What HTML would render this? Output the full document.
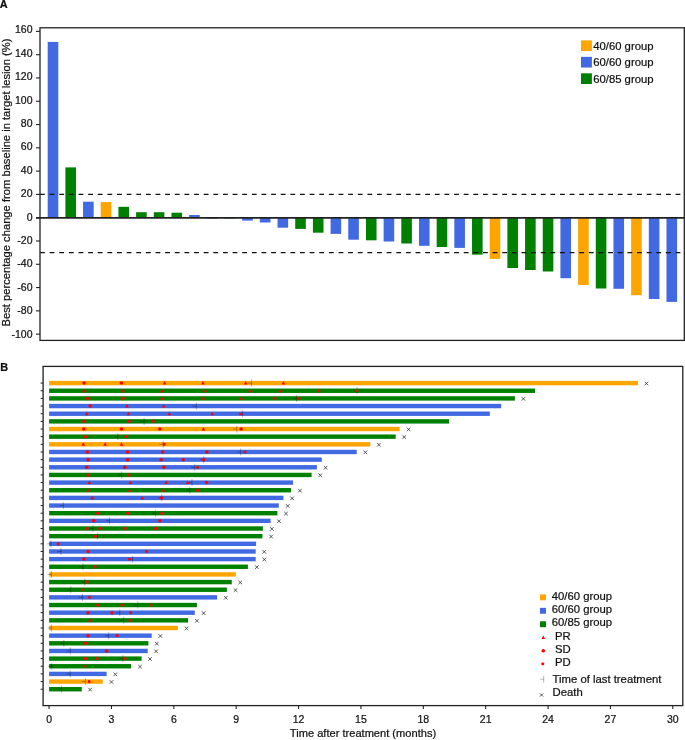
<!DOCTYPE html>
<html><head><meta charset="utf-8"><style>
html,body{margin:0;padding:0;background:#fff;width:685px;height:740px;overflow:hidden}
svg{display:block}
text{font-family:"Liberation Sans", sans-serif;fill:#111;stroke:#111;stroke-width:0.22px}
svg{-webkit-font-smoothing:antialiased}
.t{will-change:transform}
</style></head><body>
<svg class="t" width="685" height="740" viewBox="0 0 685 740">
<rect width="685" height="740" fill="#fff"/>
<text x="-0.2" y="7.8" font-size="10.9" font-weight="bold">A</text>
<text transform="translate(10.2,182.5) rotate(-90)" font-size="11.2" text-anchor="middle">Best percentage change from baseline in target lesion (%)</text>
<line x1="36" x2="40" y1="31.38" y2="31.38" stroke="#222" stroke-width="1.1"/>
<text x="32.5" y="33.25" font-size="10.5" text-anchor="end">160</text>
<line x1="36" x2="40" y1="54.67" y2="54.67" stroke="#222" stroke-width="1.1"/>
<text x="32.5" y="56.67" font-size="10.5" text-anchor="end">140</text>
<line x1="36" x2="40" y1="77.96" y2="77.96" stroke="#222" stroke-width="1.1"/>
<text x="32.5" y="80.09" font-size="10.5" text-anchor="end">120</text>
<line x1="36" x2="40" y1="101.25" y2="101.25" stroke="#222" stroke-width="1.1"/>
<text x="32.5" y="103.51" font-size="10.5" text-anchor="end">100</text>
<line x1="36" x2="40" y1="124.54" y2="124.54" stroke="#222" stroke-width="1.1"/>
<text x="32.5" y="126.93" font-size="10.5" text-anchor="end">80</text>
<line x1="36" x2="40" y1="147.83" y2="147.83" stroke="#222" stroke-width="1.1"/>
<text x="32.5" y="150.35" font-size="10.5" text-anchor="end">60</text>
<line x1="36" x2="40" y1="171.12" y2="171.12" stroke="#222" stroke-width="1.1"/>
<text x="32.5" y="173.77" font-size="10.5" text-anchor="end">40</text>
<line x1="36" x2="40" y1="194.41" y2="194.41" stroke="#222" stroke-width="1.1"/>
<text x="32.5" y="197.19" font-size="10.5" text-anchor="end">20</text>
<line x1="36" x2="40" y1="217.7" y2="217.7" stroke="#222" stroke-width="1.1"/>
<text x="32.5" y="220.61" font-size="10.5" text-anchor="end">0</text>
<line x1="36" x2="40" y1="240.99" y2="240.99" stroke="#222" stroke-width="1.1"/>
<text x="32.5" y="244.03" font-size="10.5" text-anchor="end">-20</text>
<line x1="36" x2="40" y1="264.28" y2="264.28" stroke="#222" stroke-width="1.1"/>
<text x="32.5" y="267.45" font-size="10.5" text-anchor="end">-40</text>
<line x1="36" x2="40" y1="287.57" y2="287.57" stroke="#222" stroke-width="1.1"/>
<text x="32.5" y="290.87" font-size="10.5" text-anchor="end">-60</text>
<line x1="36" x2="40" y1="310.86" y2="310.86" stroke="#222" stroke-width="1.1"/>
<text x="32.5" y="314.29" font-size="10.5" text-anchor="end">-80</text>
<line x1="36" x2="40" y1="334.15" y2="334.15" stroke="#222" stroke-width="1.1"/>
<text x="32.5" y="337.71" font-size="10.5" text-anchor="end">-100</text>
<rect x="47.7" y="41.9" width="10.6" height="175.8" fill="#4169E1"/>
<rect x="65.38" y="167.4" width="10.6" height="50.3" fill="#008000"/>
<rect x="83.06" y="201.7" width="10.6" height="16" fill="#4169E1"/>
<rect x="100.74" y="202.1" width="10.6" height="15.6" fill="#FFA500"/>
<rect x="118.42" y="206.8" width="10.6" height="10.9" fill="#008000"/>
<rect x="136.1" y="212.2" width="10.6" height="5.5" fill="#008000"/>
<rect x="153.78" y="212.2" width="10.6" height="5.5" fill="#008000"/>
<rect x="171.46" y="212.7" width="10.6" height="5" fill="#008000"/>
<rect x="189.14" y="215" width="10.6" height="2.7" fill="#4169E1"/>
<rect x="224.5" y="217.7" width="10.6" height="0.7" fill="#008000"/>
<rect x="242.18" y="217.7" width="10.6" height="2.9" fill="#4169E1"/>
<rect x="259.86" y="217.7" width="10.6" height="4.8" fill="#4169E1"/>
<rect x="277.54" y="217.7" width="10.6" height="10" fill="#4169E1"/>
<rect x="295.22" y="217.7" width="10.6" height="11.2" fill="#008000"/>
<rect x="312.9" y="217.7" width="10.6" height="15" fill="#008000"/>
<rect x="330.58" y="217.7" width="10.6" height="16.2" fill="#4169E1"/>
<rect x="348.26" y="217.7" width="10.6" height="22" fill="#4169E1"/>
<rect x="365.94" y="217.7" width="10.6" height="22.6" fill="#008000"/>
<rect x="383.62" y="217.7" width="10.6" height="23.8" fill="#4169E1"/>
<rect x="401.3" y="217.7" width="10.6" height="25.8" fill="#008000"/>
<rect x="418.98" y="217.7" width="10.6" height="28.1" fill="#4169E1"/>
<rect x="436.66" y="217.7" width="10.6" height="29.3" fill="#008000"/>
<rect x="454.34" y="217.7" width="10.6" height="30.2" fill="#4169E1"/>
<rect x="472.02" y="217.7" width="10.6" height="36.9" fill="#008000"/>
<rect x="489.7" y="217.7" width="10.6" height="41.2" fill="#FFA500"/>
<rect x="507.38" y="217.7" width="10.6" height="50.3" fill="#008000"/>
<rect x="525.06" y="217.7" width="10.6" height="52.3" fill="#008000"/>
<rect x="542.74" y="217.7" width="10.6" height="53.8" fill="#008000"/>
<rect x="560.42" y="217.7" width="10.6" height="60.5" fill="#4169E1"/>
<rect x="578.1" y="217.7" width="10.6" height="67.3" fill="#FFA500"/>
<rect x="595.78" y="217.7" width="10.6" height="70.8" fill="#008000"/>
<rect x="613.46" y="217.7" width="10.6" height="71.1" fill="#4169E1"/>
<rect x="631.14" y="217.7" width="10.6" height="77.5" fill="#FFA500"/>
<rect x="648.82" y="217.7" width="10.6" height="81.3" fill="#4169E1"/>
<rect x="666.5" y="217.7" width="10.6" height="84.2" fill="#4169E1"/>
<line x1="40" x2="684.3" y1="194.41" y2="194.41" stroke="#111" stroke-width="1.2" stroke-dasharray="4.8 4.83"/>
<line x1="40" x2="684.3" y1="252.63" y2="252.63" stroke="#111" stroke-width="1.2" stroke-dasharray="4.8 4.83"/>
<line x1="36" x2="684.3" y1="217.85" y2="217.85" stroke="#222" stroke-width="1.6"/>
<rect x="206.82" y="217.6" width="10.6" height="1.1" fill="#000" fill-opacity="0.3"/>
<rect x="40" y="27.8" width="644.3" height="312.6" fill="none" stroke="#222" stroke-width="1.3"/>
<rect x="581" y="40.4" width="10.9" height="10.7" fill="#FFA500"/>
<text x="593.2" y="49.6" font-size="11.3">40/60 group</text>
<rect x="581" y="56.85" width="10.9" height="10.7" fill="#4169E1"/>
<text x="593.2" y="66.05" font-size="11.3">60/60 group</text>
<rect x="581" y="73.3" width="10.9" height="10.7" fill="#008000"/>
<text x="593.2" y="82.5" font-size="11.3">60/85 group</text>
<text x="0.2" y="370.8" font-size="10.9" font-weight="bold">B</text>
<rect x="49.1" y="380.9" width="588.8" height="4.4" fill="#FFA500"/>
<line x1="40.6" x2="43.1" y1="383.1" y2="383.1" stroke="#222" stroke-width="1"/>
<path d="M251.5 379.6V386.6M247.7 383.1H251.5" stroke="#000" stroke-opacity="0.38" stroke-width="0.75" fill="none"/>
<circle cx="84" cy="383.1" r="1.75" fill="#FF0000"/>
<circle cx="121.4" cy="383.1" r="1.75" fill="#FF0000"/>
<path d="M164.6 381.12L166.4 384.54L162.8 384.54Z" fill="#FF0000"/>
<path d="M202.9 381.12L204.7 384.54L201.1 384.54Z" fill="#FF0000"/>
<path d="M245.7 381.12L247.5 384.54L243.9 384.54Z" fill="#FF0000"/>
<path d="M283.4 381.12L285.2 384.54L281.6 384.54Z" fill="#FF0000"/>
<path d="M644.6 381.7L648.2 385.3M644.6 385.3L648.2 381.7" stroke="#2a2a2a" stroke-width="0.78" fill="none"/>
<rect x="49.1" y="388.55" width="485.9" height="4.4" fill="#008000"/>
<line x1="40.6" x2="43.1" y1="390.75" y2="390.75" stroke="#222" stroke-width="1"/>
<path d="M357.1 387.25V394.25M353.3 390.75H357.1" stroke="#000" stroke-opacity="0.38" stroke-width="0.75" fill="none"/>
<path d="M84 388.77L85.8 392.19L82.2 392.19Z" fill="#FF0000"/>
<path d="M122.8 388.77L124.6 392.19L121 392.19Z" fill="#FF0000"/>
<path d="M161.8 388.77L163.6 392.19L160 392.19Z" fill="#FF0000"/>
<path d="M205 388.77L206.8 392.19L203.2 392.19Z" fill="#FF0000"/>
<path d="M250 388.77L251.8 392.19L248.2 392.19Z" fill="#FF0000"/>
<path d="M279.9 388.77L281.7 392.19L278.1 392.19Z" fill="#FF0000"/>
<path d="M318.9 388.77L320.7 392.19L317.1 392.19Z" fill="#FF0000"/>
<rect x="355.35" y="389.4" width="2.7" height="2.7" rx="0.7" fill="#FF0000"/>
<rect x="49.1" y="396.21" width="465.8" height="4.4" fill="#008000"/>
<line x1="40.6" x2="43.1" y1="398.41" y2="398.41" stroke="#222" stroke-width="1"/>
<path d="M296.6 394.91V401.91M292.8 398.41H296.6" stroke="#000" stroke-opacity="0.38" stroke-width="0.75" fill="none"/>
<circle cx="87.5" cy="398.41" r="1.75" fill="#FF0000"/>
<circle cx="122.8" cy="398.41" r="1.75" fill="#FF0000"/>
<path d="M161.8 396.42L163.6 399.84L160 399.84Z" fill="#FF0000"/>
<path d="M202.9 396.42L204.7 399.84L201.1 399.84Z" fill="#FF0000"/>
<path d="M241.1 396.42L242.9 399.84L239.3 399.84Z" fill="#FF0000"/>
<path d="M274.5 396.42L276.3 399.84L272.7 399.84Z" fill="#FF0000"/>
<rect x="297.45" y="397.06" width="2.7" height="2.7" rx="0.7" fill="#FF0000"/>
<path d="M521.6 397.01L525.2 400.61M521.6 400.61L525.2 397.01" stroke="#2a2a2a" stroke-width="0.78" fill="none"/>
<rect x="49.1" y="403.86" width="452.1" height="4.4" fill="#4169E1"/>
<line x1="40.6" x2="43.1" y1="406.06" y2="406.06" stroke="#222" stroke-width="1"/>
<path d="M196.3 402.56V409.56M192.5 406.06H196.3" stroke="#000" stroke-opacity="0.38" stroke-width="0.75" fill="none"/>
<circle cx="90.1" cy="406.06" r="1.75" fill="#FF0000"/>
<path d="M126.9 404.08L128.7 407.5L125.1 407.5Z" fill="#FF0000"/>
<path d="M163.7 404.08L165.5 407.5L161.9 407.5Z" fill="#FF0000"/>
<rect x="49.1" y="411.51" width="440.7" height="4.4" fill="#4169E1"/>
<line x1="40.6" x2="43.1" y1="413.71" y2="413.71" stroke="#222" stroke-width="1"/>
<path d="M242.6 410.21V417.21M238.8 413.71H242.6" stroke="#000" stroke-opacity="0.38" stroke-width="0.75" fill="none"/>
<path d="M86.8 411.73L88.6 415.15L85 415.15Z" fill="#FF0000"/>
<path d="M128.4 411.73L130.2 415.15L126.6 415.15Z" fill="#FF0000"/>
<path d="M169.3 411.73L171.1 415.15L167.5 415.15Z" fill="#FF0000"/>
<path d="M212.3 411.73L214.1 415.15L210.5 415.15Z" fill="#FF0000"/>
<path d="M241.1 411.73L242.9 415.15L239.3 415.15Z" fill="#FF0000"/>
<rect x="49.1" y="419.17" width="399.9" height="4.4" fill="#008000"/>
<line x1="40.6" x2="43.1" y1="421.37" y2="421.37" stroke="#222" stroke-width="1"/>
<path d="M144.1 417.87V424.87M140.3 421.37H144.1" stroke="#000" stroke-opacity="0.38" stroke-width="0.75" fill="none"/>
<circle cx="84" cy="421.37" r="1.75" fill="#FF0000"/>
<circle cx="129.1" cy="421.37" r="1.75" fill="#FF0000"/>
<circle cx="152.9" cy="421.37" r="1.75" fill="#FF0000"/>
<rect x="49.1" y="426.82" width="350.6" height="4.4" fill="#FFA500"/>
<line x1="40.6" x2="43.1" y1="429.02" y2="429.02" stroke="#222" stroke-width="1"/>
<path d="M236.8 425.52V432.52M233 429.02H236.8" stroke="#000" stroke-opacity="0.38" stroke-width="0.75" fill="none"/>
<circle cx="83.8" cy="429.02" r="1.75" fill="#FF0000"/>
<circle cx="121.5" cy="429.02" r="1.75" fill="#FF0000"/>
<circle cx="159.9" cy="429.02" r="1.75" fill="#FF0000"/>
<path d="M203.3 427.03L205.1 430.45L201.5 430.45Z" fill="#FF0000"/>
<circle cx="241.1" cy="429.02" r="1.75" fill="#FF0000"/>
<path d="M406.8 427.62L410.4 431.22M406.8 431.22L410.4 427.62" stroke="#2a2a2a" stroke-width="0.78" fill="none"/>
<rect x="49.1" y="434.47" width="346.6" height="4.4" fill="#008000"/>
<line x1="40.6" x2="43.1" y1="436.67" y2="436.67" stroke="#222" stroke-width="1"/>
<path d="M117.8 433.17V440.17M114 436.67H117.8" stroke="#000" stroke-opacity="0.38" stroke-width="0.75" fill="none"/>
<circle cx="85.3" cy="436.67" r="1.75" fill="#FF0000"/>
<rect x="124.45" y="435.32" width="2.7" height="2.7" rx="0.7" fill="#FF0000"/>
<path d="M402.4 435.27L406 438.87M402.4 438.87L406 435.27" stroke="#2a2a2a" stroke-width="0.78" fill="none"/>
<rect x="49.1" y="442.12" width="321.2" height="4.4" fill="#FFA500"/>
<line x1="40.6" x2="43.1" y1="444.32" y2="444.32" stroke="#222" stroke-width="1"/>
<path d="M163.1 440.82V447.82M159.3 444.32H163.1" stroke="#000" stroke-opacity="0.38" stroke-width="0.75" fill="none"/>
<path d="M83.2 442.34L85 445.76L81.4 445.76Z" fill="#FF0000"/>
<path d="M105.1 442.34L106.9 445.76L103.3 445.76Z" fill="#FF0000"/>
<path d="M121.5 442.34L123.3 445.76L119.7 445.76Z" fill="#FF0000"/>
<rect x="162.85" y="442.97" width="2.7" height="2.7" rx="0.7" fill="#FF0000"/>
<path d="M377.1 442.92L380.7 446.52M377.1 446.52L380.7 442.92" stroke="#2a2a2a" stroke-width="0.78" fill="none"/>
<rect x="49.1" y="449.78" width="307.6" height="4.4" fill="#4169E1"/>
<line x1="40.6" x2="43.1" y1="451.98" y2="451.98" stroke="#222" stroke-width="1"/>
<path d="M240.7 448.48V455.48M236.9 451.98H240.7" stroke="#000" stroke-opacity="0.38" stroke-width="0.75" fill="none"/>
<circle cx="87.4" cy="451.98" r="1.75" fill="#FF0000"/>
<circle cx="127.6" cy="451.98" r="1.75" fill="#FF0000"/>
<circle cx="162.6" cy="451.98" r="1.75" fill="#FF0000"/>
<circle cx="206.8" cy="451.98" r="1.75" fill="#FF0000"/>
<rect x="243.45" y="450.63" width="2.7" height="2.7" rx="0.7" fill="#FF0000"/>
<path d="M363.6 450.58L367.2 454.18M363.6 454.18L367.2 450.58" stroke="#2a2a2a" stroke-width="0.78" fill="none"/>
<rect x="49.1" y="457.43" width="272.7" height="4.4" fill="#4169E1"/>
<line x1="40.6" x2="43.1" y1="459.63" y2="459.63" stroke="#222" stroke-width="1"/>
<path d="M203.7 456.13V463.13M199.9 459.63H203.7" stroke="#000" stroke-opacity="0.38" stroke-width="0.75" fill="none"/>
<circle cx="88.1" cy="459.63" r="1.75" fill="#FF0000"/>
<circle cx="127.6" cy="459.63" r="1.75" fill="#FF0000"/>
<circle cx="161.1" cy="459.63" r="1.75" fill="#FF0000"/>
<circle cx="183.1" cy="459.63" r="1.75" fill="#FF0000"/>
<circle cx="203.6" cy="459.63" r="1.75" fill="#FF0000"/>
<rect x="49.1" y="465.08" width="267.8" height="4.4" fill="#4169E1"/>
<line x1="40.6" x2="43.1" y1="467.28" y2="467.28" stroke="#222" stroke-width="1"/>
<path d="M194.8 463.78V470.78M191 467.28H194.8" stroke="#000" stroke-opacity="0.38" stroke-width="0.75" fill="none"/>
<circle cx="86.7" cy="467.28" r="1.75" fill="#FF0000"/>
<circle cx="124.8" cy="467.28" r="1.75" fill="#FF0000"/>
<circle cx="163.9" cy="467.28" r="1.75" fill="#FF0000"/>
<rect x="196.35" y="465.93" width="2.7" height="2.7" rx="0.7" fill="#FF0000"/>
<path d="M323.8 465.88L327.4 469.48M323.8 469.48L327.4 465.88" stroke="#2a2a2a" stroke-width="0.78" fill="none"/>
<rect x="49.1" y="472.74" width="262.5" height="4.4" fill="#008000"/>
<line x1="40.6" x2="43.1" y1="474.94" y2="474.94" stroke="#222" stroke-width="1"/>
<path d="M121.7 471.44V478.44M117.9 474.94H121.7" stroke="#000" stroke-opacity="0.38" stroke-width="0.75" fill="none"/>
<circle cx="88.1" cy="474.94" r="1.75" fill="#FF0000"/>
<circle cx="128.8" cy="474.94" r="1.75" fill="#FF0000"/>
<path d="M318.5 473.54L322.1 477.14M318.5 477.14L322.1 473.54" stroke="#2a2a2a" stroke-width="0.78" fill="none"/>
<rect x="49.1" y="480.39" width="244" height="4.4" fill="#4169E1"/>
<line x1="40.6" x2="43.1" y1="482.59" y2="482.59" stroke="#222" stroke-width="1"/>
<path d="M192 479.09V486.09M188.2 482.59H192" stroke="#000" stroke-opacity="0.38" stroke-width="0.75" fill="none"/>
<path d="M89.3 480.61L91.1 484.03L87.5 484.03Z" fill="#FF0000"/>
<path d="M130.4 480.61L132.2 484.03L128.6 484.03Z" fill="#FF0000"/>
<path d="M166.2 480.61L168 484.03L164.4 484.03Z" fill="#FF0000"/>
<path d="M187.7 480.61L189.5 484.03L185.9 484.03Z" fill="#FF0000"/>
<circle cx="206.6" cy="482.59" r="1.75" fill="#FF0000"/>
<rect x="49.1" y="488.04" width="241.9" height="4.4" fill="#008000"/>
<line x1="40.6" x2="43.1" y1="490.24" y2="490.24" stroke="#222" stroke-width="1"/>
<path d="M189.9 486.74V493.74M186.1 490.24H189.9" stroke="#000" stroke-opacity="0.38" stroke-width="0.75" fill="none"/>
<path d="M88.1 488.26L89.9 491.68L86.3 491.68Z" fill="#FF0000"/>
<path d="M129.7 488.26L131.5 491.68L127.9 491.68Z" fill="#FF0000"/>
<path d="M163.1 488.26L164.9 491.68L161.3 491.68Z" fill="#FF0000"/>
<circle cx="197.8" cy="490.24" r="1.75" fill="#FF0000"/>
<path d="M298.1 488.84L301.7 492.44M298.1 492.44L301.7 488.84" stroke="#2a2a2a" stroke-width="0.78" fill="none"/>
<rect x="49.1" y="495.69" width="234.3" height="4.4" fill="#4169E1"/>
<line x1="40.6" x2="43.1" y1="497.89" y2="497.89" stroke="#222" stroke-width="1"/>
<path d="M161.7 494.39V501.39M157.9 497.89H161.7" stroke="#000" stroke-opacity="0.38" stroke-width="0.75" fill="none"/>
<path d="M92.3 495.91L94.1 499.33L90.5 499.33Z" fill="#FF0000"/>
<path d="M142.1 495.91L143.9 499.33L140.3 499.33Z" fill="#FF0000"/>
<circle cx="161.5" cy="497.89" r="1.75" fill="#FF0000"/>
<path d="M290.3 496.49L293.9 500.09M290.3 500.09L293.9 496.49" stroke="#2a2a2a" stroke-width="0.78" fill="none"/>
<rect x="49.1" y="503.35" width="229.7" height="4.4" fill="#4169E1"/>
<line x1="40.6" x2="43.1" y1="505.55" y2="505.55" stroke="#222" stroke-width="1"/>
<path d="M63.3 502.05V509.05M59.5 505.55H63.3" stroke="#000" stroke-opacity="0.38" stroke-width="0.75" fill="none"/>
<path d="M285.9 504.15L289.5 507.75M285.9 507.75L289.5 504.15" stroke="#2a2a2a" stroke-width="0.78" fill="none"/>
<rect x="49.1" y="511" width="228.3" height="4.4" fill="#008000"/>
<line x1="40.6" x2="43.1" y1="513.2" y2="513.2" stroke="#222" stroke-width="1"/>
<path d="M155.6 509.7V516.7M151.8 513.2H155.6" stroke="#000" stroke-opacity="0.38" stroke-width="0.75" fill="none"/>
<circle cx="97.7" cy="513.2" r="1.75" fill="#FF0000"/>
<circle cx="127.9" cy="513.2" r="1.75" fill="#FF0000"/>
<circle cx="162" cy="513.2" r="1.75" fill="#FF0000"/>
<path d="M284.2 511.8L287.8 515.4M284.2 515.4L287.8 511.8" stroke="#2a2a2a" stroke-width="0.78" fill="none"/>
<rect x="49.1" y="518.65" width="221.5" height="4.4" fill="#4169E1"/>
<line x1="40.6" x2="43.1" y1="520.85" y2="520.85" stroke="#222" stroke-width="1"/>
<path d="M109.6 517.35V524.35M105.8 520.85H109.6" stroke="#000" stroke-opacity="0.38" stroke-width="0.75" fill="none"/>
<circle cx="93.7" cy="520.85" r="1.75" fill="#FF0000"/>
<circle cx="159.9" cy="520.85" r="1.75" fill="#FF0000"/>
<path d="M277.2 519.45L280.8 523.05M277.2 523.05L280.8 519.45" stroke="#2a2a2a" stroke-width="0.78" fill="none"/>
<rect x="49.1" y="526.31" width="213.8" height="4.4" fill="#008000"/>
<line x1="40.6" x2="43.1" y1="528.51" y2="528.51" stroke="#222" stroke-width="1"/>
<path d="M93 525.01V532.01M89.2 528.51H93" stroke="#000" stroke-opacity="0.38" stroke-width="0.75" fill="none"/>
<circle cx="86.7" cy="528.51" r="1.75" fill="#FF0000"/>
<circle cx="100" cy="528.51" r="1.75" fill="#FF0000"/>
<circle cx="124.8" cy="528.51" r="1.75" fill="#FF0000"/>
<circle cx="155.7" cy="528.51" r="1.75" fill="#FF0000"/>
<path d="M270 527.11L273.6 530.71M270 530.71L273.6 527.11" stroke="#2a2a2a" stroke-width="0.78" fill="none"/>
<rect x="49.1" y="533.96" width="213.3" height="4.4" fill="#008000"/>
<line x1="40.6" x2="43.1" y1="536.16" y2="536.16" stroke="#222" stroke-width="1"/>
<path d="M97.6 532.66V539.66M93.8 536.16H97.6" stroke="#000" stroke-opacity="0.38" stroke-width="0.75" fill="none"/>
<circle cx="95.1" cy="536.16" r="1.75" fill="#FF0000"/>
<path d="M269.3 534.76L272.9 538.36M269.3 538.36L272.9 534.76" stroke="#2a2a2a" stroke-width="0.78" fill="none"/>
<rect x="49.1" y="541.61" width="207" height="4.4" fill="#4169E1"/>
<line x1="40.6" x2="43.1" y1="543.81" y2="543.81" stroke="#222" stroke-width="1"/>
<path d="M50.9 540.31V547.31M47.1 543.81H50.9" stroke="#000" stroke-opacity="0.38" stroke-width="0.75" fill="none"/>
<rect x="56.85" y="542.46" width="2.7" height="2.7" rx="0.7" fill="#FF0000"/>
<rect x="49.1" y="549.27" width="206.6" height="4.4" fill="#4169E1"/>
<line x1="40.6" x2="43.1" y1="551.47" y2="551.47" stroke="#222" stroke-width="1"/>
<path d="M61 547.97V554.97M57.2 551.47H61" stroke="#000" stroke-opacity="0.38" stroke-width="0.75" fill="none"/>
<circle cx="88.1" cy="551.47" r="1.75" fill="#FF0000"/>
<rect x="145.15" y="550.12" width="2.7" height="2.7" rx="0.7" fill="#FF0000"/>
<path d="M262.5 550.07L266.1 553.67M262.5 553.67L266.1 550.07" stroke="#2a2a2a" stroke-width="0.78" fill="none"/>
<rect x="49.1" y="556.92" width="206.6" height="4.4" fill="#4169E1"/>
<line x1="40.6" x2="43.1" y1="559.12" y2="559.12" stroke="#222" stroke-width="1"/>
<path d="M132.7 555.62V562.62M128.9 559.12H132.7" stroke="#000" stroke-opacity="0.38" stroke-width="0.75" fill="none"/>
<circle cx="83.9" cy="559.12" r="1.75" fill="#FF0000"/>
<rect x="128.15" y="557.77" width="2.7" height="2.7" rx="0.7" fill="#FF0000"/>
<path d="M262.5 557.72L266.1 561.32M262.5 561.32L266.1 557.72" stroke="#2a2a2a" stroke-width="0.78" fill="none"/>
<rect x="49.1" y="564.57" width="198.8" height="4.4" fill="#008000"/>
<line x1="40.6" x2="43.1" y1="566.77" y2="566.77" stroke="#222" stroke-width="1"/>
<path d="M82.9 563.27V570.27M79.1 566.77H82.9" stroke="#000" stroke-opacity="0.38" stroke-width="0.75" fill="none"/>
<circle cx="94.7" cy="566.77" r="1.75" fill="#FF0000"/>
<path d="M255 565.37L258.6 568.97M255 568.97L258.6 565.37" stroke="#2a2a2a" stroke-width="0.78" fill="none"/>
<rect x="49.1" y="572.22" width="186.7" height="4.4" fill="#FFA500"/>
<line x1="40.6" x2="43.1" y1="574.42" y2="574.42" stroke="#222" stroke-width="1"/>
<path d="M51.4 570.92V577.92M47.6 574.42H51.4" stroke="#000" stroke-opacity="0.38" stroke-width="0.75" fill="none"/>
<rect x="49.1" y="579.88" width="182.7" height="4.4" fill="#008000"/>
<line x1="40.6" x2="43.1" y1="582.08" y2="582.08" stroke="#222" stroke-width="1"/>
<path d="M84.8 578.58V585.58M81 582.08H84.8" stroke="#000" stroke-opacity="0.38" stroke-width="0.75" fill="none"/>
<circle cx="86.7" cy="582.08" r="1.75" fill="#FF0000"/>
<path d="M238.4 580.68L242 584.28M238.4 584.28L242 580.68" stroke="#2a2a2a" stroke-width="0.78" fill="none"/>
<rect x="49.1" y="587.53" width="177.8" height="4.4" fill="#008000"/>
<line x1="40.6" x2="43.1" y1="589.73" y2="589.73" stroke="#222" stroke-width="1"/>
<path d="M70.8 586.23V593.23M67 589.73H70.8" stroke="#000" stroke-opacity="0.38" stroke-width="0.75" fill="none"/>
<rect x="80.95" y="588.38" width="2.7" height="2.7" rx="0.7" fill="#FF0000"/>
<path d="M233.7 588.33L237.3 591.93M233.7 591.93L237.3 588.33" stroke="#2a2a2a" stroke-width="0.78" fill="none"/>
<rect x="49.1" y="595.18" width="168" height="4.4" fill="#4169E1"/>
<line x1="40.6" x2="43.1" y1="597.38" y2="597.38" stroke="#222" stroke-width="1"/>
<path d="M82.5 593.88V600.88M78.7 597.38H82.5" stroke="#000" stroke-opacity="0.38" stroke-width="0.75" fill="none"/>
<rect x="88.15" y="596.03" width="2.7" height="2.7" rx="0.7" fill="#FF0000"/>
<path d="M224 595.98L227.6 599.58M224 599.58L227.6 595.98" stroke="#2a2a2a" stroke-width="0.78" fill="none"/>
<rect x="49.1" y="602.84" width="147.8" height="4.4" fill="#008000"/>
<line x1="40.6" x2="43.1" y1="605.04" y2="605.04" stroke="#222" stroke-width="1"/>
<path d="M137.8 601.54V608.54M134 605.04H137.8" stroke="#000" stroke-opacity="0.38" stroke-width="0.75" fill="none"/>
<rect x="96.35" y="603.69" width="2.7" height="2.7" rx="0.7" fill="#FF0000"/>
<rect x="120.45" y="603.69" width="2.7" height="2.7" rx="0.7" fill="#FF0000"/>
<rect x="148.95" y="603.69" width="2.7" height="2.7" rx="0.7" fill="#FF0000"/>
<rect x="49.1" y="610.49" width="145.7" height="4.4" fill="#4169E1"/>
<line x1="40.6" x2="43.1" y1="612.69" y2="612.69" stroke="#222" stroke-width="1"/>
<path d="M119.8 609.19V616.19M116 612.69H119.8" stroke="#000" stroke-opacity="0.38" stroke-width="0.75" fill="none"/>
<circle cx="88.1" cy="612.69" r="1.75" fill="#FF0000"/>
<circle cx="112" cy="612.69" r="1.75" fill="#FF0000"/>
<rect x="129.35" y="611.34" width="2.7" height="2.7" rx="0.7" fill="#FF0000"/>
<path d="M201.8 611.29L205.4 614.89M201.8 614.89L205.4 611.29" stroke="#2a2a2a" stroke-width="0.78" fill="none"/>
<rect x="49.1" y="618.14" width="138.9" height="4.4" fill="#008000"/>
<line x1="40.6" x2="43.1" y1="620.34" y2="620.34" stroke="#222" stroke-width="1"/>
<path d="M123.6 616.84V623.84M119.8 620.34H123.6" stroke="#000" stroke-opacity="0.38" stroke-width="0.75" fill="none"/>
<path d="M90.2 618.36L92 621.78L88.4 621.78Z" fill="#FF0000"/>
<rect x="128.65" y="618.99" width="2.7" height="2.7" rx="0.7" fill="#FF0000"/>
<path d="M195.1 618.94L198.7 622.54M195.1 622.54L198.7 618.94" stroke="#2a2a2a" stroke-width="0.78" fill="none"/>
<rect x="49.1" y="625.8" width="128.7" height="4.4" fill="#FFA500"/>
<line x1="40.6" x2="43.1" y1="628" y2="628" stroke="#222" stroke-width="1"/>
<path d="M51.4 624.5V631.5M47.6 628H51.4" stroke="#000" stroke-opacity="0.38" stroke-width="0.75" fill="none"/>
<path d="M184.7 626.6L188.3 630.2M184.7 630.2L188.3 626.6" stroke="#2a2a2a" stroke-width="0.78" fill="none"/>
<rect x="49.1" y="633.45" width="102.6" height="4.4" fill="#4169E1"/>
<line x1="40.6" x2="43.1" y1="635.65" y2="635.65" stroke="#222" stroke-width="1"/>
<path d="M108.6 632.15V639.15M104.8 635.65H108.6" stroke="#000" stroke-opacity="0.38" stroke-width="0.75" fill="none"/>
<circle cx="88.1" cy="635.65" r="1.75" fill="#FF0000"/>
<rect x="115.75" y="634.3" width="2.7" height="2.7" rx="0.7" fill="#FF0000"/>
<path d="M158.6 634.25L162.2 637.85M158.6 637.85L162.2 634.25" stroke="#2a2a2a" stroke-width="0.78" fill="none"/>
<rect x="49.1" y="641.1" width="99.3" height="4.4" fill="#008000"/>
<line x1="40.6" x2="43.1" y1="643.3" y2="643.3" stroke="#222" stroke-width="1"/>
<path d="M63.8 639.8V646.8M60 643.3H63.8" stroke="#000" stroke-opacity="0.38" stroke-width="0.75" fill="none"/>
<circle cx="85.6" cy="643.3" r="1.75" fill="#FF0000"/>
<path d="M155 641.9L158.6 645.5M155 645.5L158.6 641.9" stroke="#2a2a2a" stroke-width="0.78" fill="none"/>
<rect x="49.1" y="648.75" width="98.6" height="4.4" fill="#4169E1"/>
<line x1="40.6" x2="43.1" y1="650.95" y2="650.95" stroke="#222" stroke-width="1"/>
<path d="M70.3 647.45V654.45M66.5 650.95H70.3" stroke="#000" stroke-opacity="0.38" stroke-width="0.75" fill="none"/>
<circle cx="106.6" cy="650.95" r="1.75" fill="#FF0000"/>
<path d="M154.3 649.55L157.9 653.15M154.3 653.15L157.9 649.55" stroke="#2a2a2a" stroke-width="0.78" fill="none"/>
<rect x="49.1" y="656.41" width="92.5" height="4.4" fill="#008000"/>
<line x1="40.6" x2="43.1" y1="658.61" y2="658.61" stroke="#222" stroke-width="1"/>
<path d="M122.9 655.11V662.11M119.1 658.61H122.9" stroke="#000" stroke-opacity="0.38" stroke-width="0.75" fill="none"/>
<circle cx="85.3" cy="658.61" r="1.75" fill="#FF0000"/>
<circle cx="97" cy="658.61" r="1.75" fill="#FF0000"/>
<circle cx="124.6" cy="658.61" r="1.75" fill="#FF0000"/>
<path d="M148.2 657.21L151.8 660.81M148.2 660.81L151.8 657.21" stroke="#2a2a2a" stroke-width="0.78" fill="none"/>
<rect x="49.1" y="664.06" width="82" height="4.4" fill="#008000"/>
<line x1="40.6" x2="43.1" y1="666.26" y2="666.26" stroke="#222" stroke-width="1"/>
<path d="M51.8 662.76V669.76M48 666.26H51.8" stroke="#000" stroke-opacity="0.38" stroke-width="0.75" fill="none"/>
<rect x="83.05" y="664.91" width="2.7" height="2.7" rx="0.7" fill="#FF0000"/>
<path d="M138.2 664.86L141.8 668.46M138.2 668.46L141.8 664.86" stroke="#2a2a2a" stroke-width="0.78" fill="none"/>
<rect x="49.1" y="671.71" width="57.5" height="4.4" fill="#4169E1"/>
<line x1="40.6" x2="43.1" y1="673.91" y2="673.91" stroke="#222" stroke-width="1"/>
<path d="M70.2 670.41V677.41M66.4 673.91H70.2" stroke="#000" stroke-opacity="0.38" stroke-width="0.75" fill="none"/>
<path d="M113.5 672.51L117.1 676.11M113.5 676.11L117.1 672.51" stroke="#2a2a2a" stroke-width="0.78" fill="none"/>
<rect x="49.1" y="679.37" width="53.6" height="4.4" fill="#FFA500"/>
<line x1="40.6" x2="43.1" y1="681.57" y2="681.57" stroke="#222" stroke-width="1"/>
<path d="M85.4 678.07V685.07M81.6 681.57H85.4" stroke="#000" stroke-opacity="0.38" stroke-width="0.75" fill="none"/>
<rect x="87.75" y="680.22" width="2.7" height="2.7" rx="0.7" fill="#FF0000"/>
<path d="M109.7 680.17L113.3 683.77M109.7 683.77L113.3 680.17" stroke="#2a2a2a" stroke-width="0.78" fill="none"/>
<rect x="49.1" y="687.02" width="32.7" height="4.4" fill="#008000"/>
<line x1="40.6" x2="43.1" y1="689.22" y2="689.22" stroke="#222" stroke-width="1"/>
<path d="M61.6 685.72V692.72M57.8 689.22H61.6" stroke="#000" stroke-opacity="0.38" stroke-width="0.75" fill="none"/>
<path d="M88.3 687.82L91.9 691.42M88.3 691.42L91.9 687.82" stroke="#2a2a2a" stroke-width="0.78" fill="none"/>
<line x1="49.1" x2="49.1" y1="705.6" y2="709" stroke="#222" stroke-width="1.1"/>
<text x="49.1" y="722.6" font-size="10.5" text-anchor="middle">0</text>
<line x1="111.47" x2="111.47" y1="705.6" y2="709" stroke="#222" stroke-width="1.1"/>
<text x="111.47" y="722.6" font-size="10.5" text-anchor="middle">3</text>
<line x1="173.84" x2="173.84" y1="705.6" y2="709" stroke="#222" stroke-width="1.1"/>
<text x="173.84" y="722.6" font-size="10.5" text-anchor="middle">6</text>
<line x1="236.21" x2="236.21" y1="705.6" y2="709" stroke="#222" stroke-width="1.1"/>
<text x="236.21" y="722.6" font-size="10.5" text-anchor="middle">9</text>
<line x1="298.58" x2="298.58" y1="705.6" y2="709" stroke="#222" stroke-width="1.1"/>
<text x="298.58" y="722.6" font-size="10.5" text-anchor="middle">12</text>
<line x1="360.95" x2="360.95" y1="705.6" y2="709" stroke="#222" stroke-width="1.1"/>
<text x="360.95" y="722.6" font-size="10.5" text-anchor="middle">15</text>
<line x1="423.32" x2="423.32" y1="705.6" y2="709" stroke="#222" stroke-width="1.1"/>
<text x="423.32" y="722.6" font-size="10.5" text-anchor="middle">18</text>
<line x1="485.69" x2="485.69" y1="705.6" y2="709" stroke="#222" stroke-width="1.1"/>
<text x="485.69" y="722.6" font-size="10.5" text-anchor="middle">21</text>
<line x1="548.06" x2="548.06" y1="705.6" y2="709" stroke="#222" stroke-width="1.1"/>
<text x="548.06" y="722.6" font-size="10.5" text-anchor="middle">24</text>
<line x1="610.43" x2="610.43" y1="705.6" y2="709" stroke="#222" stroke-width="1.1"/>
<text x="610.43" y="722.6" font-size="10.5" text-anchor="middle">27</text>
<line x1="672.8" x2="672.8" y1="705.6" y2="709" stroke="#222" stroke-width="1.1"/>
<text x="672.8" y="722.6" font-size="10.5" text-anchor="middle">30</text>
<text x="363" y="736.6" font-size="11.1" text-anchor="middle">Time after treatment (months)</text>
<rect x="43.1" y="366.4" width="639.7" height="339.2" fill="none" stroke="#222" stroke-width="1.3"/>
<rect x="540" y="594.4" width="6" height="5.9" fill="#FFA500"/>
<text x="551.8" y="600" font-size="11.3">40/60 group</text>
<rect x="540" y="607.85" width="6" height="5.9" fill="#4169E1"/>
<text x="551.8" y="613.2" font-size="11.3">60/60 group</text>
<rect x="540" y="621.3" width="6" height="5.9" fill="#008000"/>
<text x="551.8" y="626.4" font-size="11.3">60/85 group</text>
<path d="M543.3 635.62L545.1 639.04L541.5 639.04Z" fill="#FF0000"/>
<text x="554.9" y="640.4" font-size="11.3">PR</text>
<circle cx="543.3" cy="650.8" r="1.8" fill="#FF0000"/>
<text x="554.9" y="653.1" font-size="11.3">SD</text>
<rect x="541.45" y="662.45" width="2.7" height="2.7" rx="0.7" fill="#FF0000"/>
<text x="554.9" y="665.9" font-size="11.3">PD</text>
<path d="M543.7 675.7V682.7M539.9 679.2H543.7" stroke="#000" stroke-opacity="0.38" stroke-width="0.75" fill="none"/>
<text x="552.6" y="683.1" font-size="11.3">Time of last treatment</text>
<path d="M540 693.4L543.2 696.6M540 696.6L543.2 693.4" stroke="#2a2a2a" stroke-width="0.78" fill="none"/>
<text x="552.6" y="696" font-size="11.3">Death</text>
</svg>
</body></html>
